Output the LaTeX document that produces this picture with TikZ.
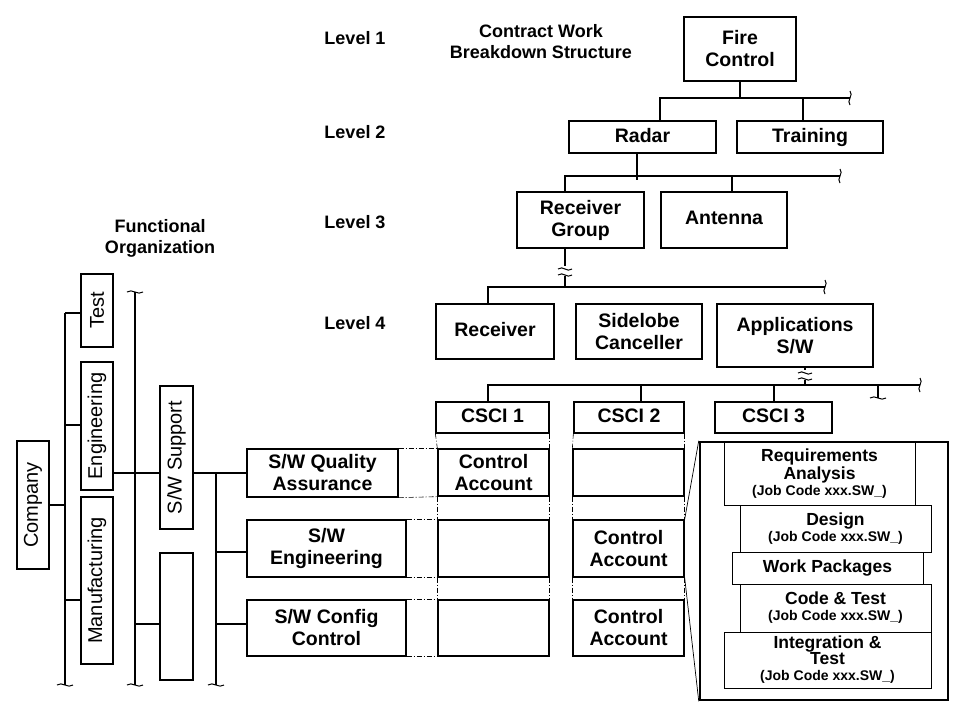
\documentclass[tikz,border=0pt]{standalone}
\usepackage{fontspec}
\setmainfont{Liberation Sans}
\newcommand\smf{\fontsize{14}{14}\selectfont}
\newcommand\ph{\vphantom{Rg}}
\begin{document}
\begin{tikzpicture}[x=1pt,y=-1pt,
  box/.style={draw,line width=1.3pt,inner sep=0pt,align=center,font=\fontsize{19.5}{22}\selectfont\bfseries},
  pbox/.style={box,line width=0.8pt,font=\fontsize{17.5}{16}\selectfont\bfseries},
  vbox/.style={draw,line width=2pt,inner sep=0pt,font=\fontsize{20}{22}\selectfont},
  ln/.style={line width=1.3pt},
  dd/.style={line width=0.6pt,dash pattern=on 5pt off 2pt on 1pt off 2pt},
  lab/.style={font=\fontsize{18}{21}\selectfont\bfseries,align=center},
  hend/.pic={\draw[line width=1pt] (0,-7) .. controls (4,-3) and (-4,3) .. (0,7);},
  vend/.pic={\draw[line width=1pt] (-8,0) .. controls (-3,-4) and (3,4) .. (8,0);},
  vbrk/.pic={\fill[white] (-8,-5) rectangle (8,5);
     \draw[line width=1pt] (-7,-2) .. controls (-2,-6) and (2,2) .. (7,-2);
     \draw[line width=1pt] (-7,4) .. controls (-2,0) and (2,8) .. (7,4);}
]
\useasboundingbox (0,0) rectangle (965,710);
\newcommand\mybox[7][box]{%
  \pgfmathsetmacro\cx{(#3+#5)/2}\pgfmathsetmacro\cy{(#4+#6)/2}%
  \pgfmathsetmacro\ww{#5-#3}\pgfmathsetmacro\hh{#6-#4}%
  \node[#1,minimum width=\ww pt,minimum height=\hh pt] (#2) at (\cx,\cy) {#7};}

% labels
\node[lab] (l1) at (355,38) {Level 1};
\node[lab] (l2) at (355,132) {Level 2};
\node[lab] (l3) at (355,222) {Level 3};
\node[lab] (l4) at (355,323) {Level 4};
\node[lab] (cwbs) at (541,42) {Contract Work\\Breakdown Structure};
\node[lab] (fo) at (160,238) {Functional\\Organization};

% WBS
\mybox{fc}{684}{17}{796}{81}{Fire\\Control}
\mybox{radar}{569}{121}{716}{153}{\ph Radar}
\mybox{train}{737}{121}{883}{153}{\ph Training}
\mybox{rg}{517}{192}{644}{248}{Receiver\\Group}
\mybox{ant}{661}{192}{787}{248}{\ph Antenna}
\mybox{rec}{436}{304}{554}{359}{\ph Receiver}
\mybox{side}{576}{304}{702}{359}{Sidelobe\\Canceller}
\mybox{app}{717}{304}{873}{367}{Applications\\S/W}
\mybox{c1}{436}{402}{549}{433}{\ph CSCI 1}
\mybox{c2}{574}{402}{684}{433}{\ph CSCI 2}
\mybox{c3}{715}{402}{832}{433}{\ph CSCI 3}

\coordinate (b1) at (850,98);
\coordinate (b2) at (840,176);
\coordinate (b3) at (825,287);
\coordinate (b4) at (920,385);
\draw[ln] (fc.south) -- (fc.south |- b1);
\draw[ln] (radar.north -| 660,0) -- (660,98) -- (b1);
\draw[ln] (train.north -| 803,0) -- (803,98);
\pic at (b1) {hend};
\draw[ln] (radar.south -| 637,0) -- (637,180);
\draw[ln] (rg.north -| 565,0) -- (565,176) -- (b2);
\draw[ln] (ant.north -| 732,0) -- (732,176);
\pic at (b2) {hend};
\draw[ln] (rg.south -| 565,0) -- (565,287);
\pic at (565,271) {vbrk};
\draw[ln] (rec.north -| 488,0) -- (488,287) -- (b3);
\pic at (b3) {hend};
\draw[ln] (app.south -| 805,0) -- (805,385);
\pic at (805,375) {vbrk};
\draw[ln] (c1.north -| 488,0) -- (488,385) -- (b4);
\draw[ln] (c2.north -| 641,0) -- (641,385);
\draw[ln] (c3.north -| 774,0) -- (774,385);
\pic at (b4) {hend};
\coordinate (tb) at (878,398);
\draw[ln] (878,385) -- (tb);
\pic at (tb) {vend};

% matrix boxes
\mybox{a11}{438}{449}{549}{496}{Control\\Account}
\mybox{a12}{573}{449}{684}{496}{}
\mybox{a21}{438}{520}{549}{577}{}
\mybox{a22}{573}{520}{684}{577}{Control\\Account}
\mybox{a31}{438}{600}{549}{656}{}
\mybox{a32}{573}{600}{684}{656}{Control\\Account}

% functional
\mybox{qa}{247}{449}{398}{497}{S/W Quality\\Assurance}
\mybox{swe}{247}{520}{406}{577}{S/W\\Engineering}
\mybox{scc}{247}{600}{406}{656}{S/W Config\\Control}

\foreach \a/\b in {c1/a11,a11/a21,a21/a31}{
  \draw[dd] (\a.south west) -- (\b.north west); \draw[dd] (\a.south east) -- (\b.north east);}
\foreach \a/\b in {c2/a12,a12/a22,a22/a32}{
  \draw[dd] (\a.south west) -- (\b.north west); \draw[dd] (\a.south east) -- (\b.north east);}
\foreach \a/\b in {qa/a11,swe/a21,scc/a31}{
  \draw[dd] (\a.north east) -- (\b.north west); \draw[dd] (\a.south east) -- (\b.south west);}

% left org
\mybox[vbox]{comp}{17}{441}{49}{569}{\rotatebox{90}{Company}}
\mybox[vbox]{test}{81}{274}{113}{347}{\rotatebox{90}{Test}}
\mybox[vbox]{eng}{81}{362}{113}{490}{\rotatebox{90}{Engineering}}
\mybox[vbox]{man}{81}{497}{113}{664}{\rotatebox{90}{Manufacturing}}
\mybox[vbox]{sws}{160}{386}{193}{529}{\rotatebox{90}{S/W Support}}
\mybox[vbox]{emp}{160}{553}{193}{680}{}

\coordinate (e1) at (65,685);
\coordinate (e2t) at (135,292);
\coordinate (e2) at (135,685);
\coordinate (e3) at (216,685);
\draw[ln] (comp.east) -- (65,505);
\draw[ln] (65,313) -- (e1);
\draw[ln] (65,313) -- (test.west |- 65,313);
\draw[ln] (65,425) -- (eng.west |- 65,425);
\draw[ln] (65,600) -- (man.west |- 65,600);
\pic at (e1) {vend};
\draw[ln] (e2t) -- (e2);
\pic at (e2t) {vend};
\pic at (e2) {vend};
\draw[ln] (eng.east |- 0,473) -- (sws.west |- 0,473);
\draw[ln] (135,624) -- (emp.west |- 0,624);
\draw[ln] (sws.east |- 0,473) -- (qa.west |- 0,473);
\draw[ln] (216,473) -- (e3);
\pic at (e3) {vend};
\draw[ln] (216,552) -- (swe.west |- 0,552);
\draw[ln] (216,624) -- (scc.west |- 0,624);

% work package panel
\node[draw,line width=2.5pt,minimum width=248pt,minimum height=258pt,inner sep=0pt] (wp) at (824,571) {};
\draw[line width=0.7pt] (a22.north east) -- (wp.north west);
\draw[line width=0.7pt] (a22.south east) -- (wp.south west);
\mybox[pbox]{req}{724}{442}{915}{505}{Requirements\\Analysis\\{\smf (Job Code xxx.SW\_)}}
\mybox[pbox]{des}{740}{505}{931}{552}{Design\\{\smf (Job Code xxx.SW\_)}}
\mybox[pbox]{wpk}{732}{552}{923}{584}{\ph Work Packages}
\mybox[pbox]{ct}{740}{584}{931}{632}{Code \& Test\\{\smf (Job Code xxx.SW\_)}}
\mybox[pbox]{it}{724}{632}{931}{688}{Integration \&\\Test\\{\smf (Job Code xxx.SW\_)}}
\end{tikzpicture}
\end{document}
